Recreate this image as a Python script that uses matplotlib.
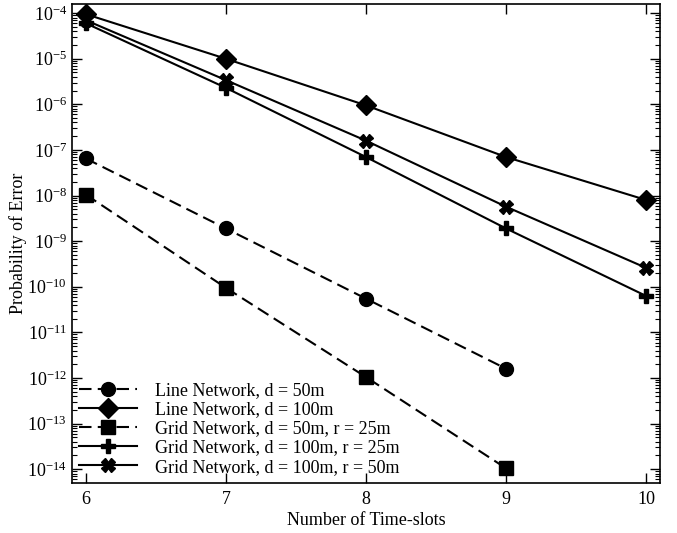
import matplotlib
matplotlib.use('Agg')
import matplotlib.pyplot as plt
from matplotlib.ticker import LogLocator, NullFormatter

plt.rcParams['font.family'] = ['Liberation Serif', 'DejaVu Serif']
plt.rcParams['mathtext.fontset'] = 'stix'

# Data
slots = [6, 7, 8, 9, 10]
line_50 = [6.5e-8, 1.9e-9, 5.5e-11, 1.6e-12]
line_100 = [9.5e-5, 1.0e-5, 9.5e-7, 7.0e-8, 8.0e-9]
grid_50_25 = [1.05e-8, 9.5e-11, 1.05e-12, 1.05e-14]
grid_100_25 = [6.0e-5, 2.3e-6, 7.0e-8, 1.9e-9, 6.3e-11]
grid_100_50 = [7.0e-5, 3.4e-6, 1.6e-7, 5.7e-9, 2.6e-10]

labels = ['Line Network, d = 50m',
          'Line Network, d = 100m',
          'Grid Network, d = 50m, r = 25m',
          'Grid Network, d = 100m, r = 25m',
          'Grid Network, d = 100m, r = 50m']


def main():
    fig = plt.figure(figsize=(6.77, 5.33), dpi=100)
    ax = fig.add_axes([0.106, 0.094, 0.869, 0.8985])

    dash = (0, (6, 3))
    kw = dict(color='black', lw=1.5, markersize=10)
    ax.plot(slots[:4], line_50, linestyle=dash, marker='o', label=labels[0], **kw)
    ax.plot(slots, line_100, linestyle='-', marker='D', label=labels[1], **kw)
    ax.plot(slots[:4], grid_50_25, linestyle=dash, marker='s', label=labels[2], **kw)
    ax.plot(slots, grid_100_25, linestyle='-', marker='P', label=labels[3], **kw)
    ax.plot(slots, grid_100_50, linestyle='-', marker='X', label=labels[4], **kw)

    ax.set_yscale('log')
    ax.set_xlim(5.9, 10.1)
    ax.set_ylim(10 ** -14.3, 10 ** -3.8)
    ax.set_xticks(slots)
    ax.yaxis.set_major_locator(LogLocator(base=10, numticks=20))
    ax.yaxis.set_minor_locator(LogLocator(base=10, subs=range(2, 10), numticks=20))
    ax.yaxis.set_minor_formatter(NullFormatter())

    ax.tick_params(which='both', direction='in', top=True, right=True,
                   labelsize=13)
    ax.tick_params(which='major', length=7, width=1)
    ax.tick_params(which='minor', length=3.5, width=0.8)
    ax.tick_params(axis='x', pad=6)
    for sp in ax.spines.values():
        sp.set_linewidth(1.2)

    ax.set_xlabel('Number of Time-slots', fontsize=13, labelpad=3)
    ax.set_ylabel('Probability of Error', fontsize=13, labelpad=0)

    ax.legend(loc='lower left', frameon=False, fontsize=13, numpoints=1,
              handlelength=3.2, handletextpad=1.0, labelspacing=0.12,
              borderaxespad=0.1, borderpad=0.3)

    fig.savefig('out.png', dpi=100)


if __name__ == '__main__':
    main()
